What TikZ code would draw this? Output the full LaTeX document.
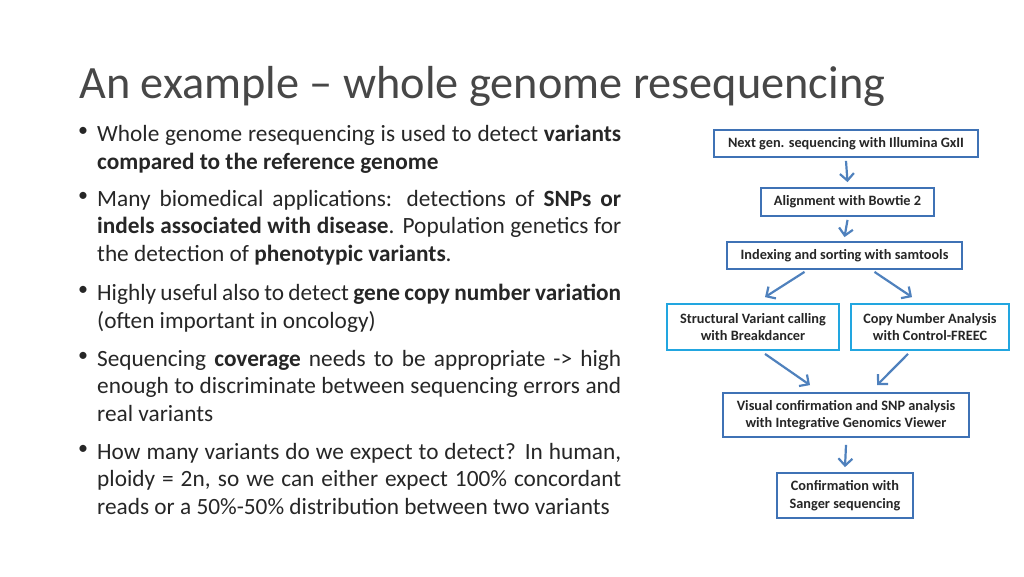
\documentclass[tikz,border=0pt]{standalone}
\usepackage{fontspec}
\setmainfont{Carlito}
\usetikzlibrary{arrows.meta}
\hyphenpenalty=10000
\exhyphenpenalty=10000
\definecolor{dblue}{HTML}{3F72B5}
\definecolor{lblue}{HTML}{22A6E0}
\definecolor{arr}{HTML}{4F81BD}
\definecolor{txt}{HTML}{262626}
\tikzset{
 fbox/.style={draw=dblue,line width=1.8pt,fill=white,font=\fontsize{14.3}{17.5}\selectfont\bfseries,text=txt,align=center,inner sep=0pt},
 lbox/.style={fbox,draw=lblue},
 flow/.style={draw=arr,line width=2.2pt,-{Straight Barb[length=7pt,width=14pt]}},
 bul/.style={anchor=north west,text width=524pt,align=justify,inner sep=0pt,font=\fontsize{23.3}{27.6}\selectfont,text=txt},
 dot/.style={anchor=north west,inner sep=0pt,font=\fontsize{20}{27.6}\selectfont,text=txt}
}
\begin{document}
\begin{tikzpicture}[x=1pt,y=-1pt]
\useasboundingbox (0,0) rectangle (1024,576);
\node[anchor=west,inner sep=0pt,font=\fontsize{46.3}{50}\selectfont,text=black!72] (title) at (79,86) {An example – whole genome resequencing};
\node[bul] (b1) at (97,125) {Whole genome resequencing is used to detect \textbf{variants compared to the reference genome}};
\node[bul] (b2) at (97,190) {Many biomedical applications: detections of \textbf{SNPs or indels associated with disease}. Population genetics for the detection of \textbf{phenotypic variants}.};
\node[bul] (b3) at (97,284) {Highly useful also to detect \textbf{gene copy number variation} (often important in oncology)};
\node[bul] (b4) at (97,350) {Sequencing \textbf{coverage} needs to be appropriate -> high enough to discriminate between sequencing errors and real variants};
\node[bul] (b5) at (97,443) {How many variants do we expect to detect? In human, ploidy = 2n, so we can either expect 100\% concordant reads or a 50\%-50\% distribution between two variants};
\foreach \n/\y in {d1/127,d2/192,d3/286,d4/352,d5/445}{\node[dot] (\n) at (78,\y) {•};}

\node[fbox,minimum width=264pt,minimum height=27pt] (n1) at (846,143.5) {Next gen. sequencing with Illumina GxII};
\node[fbox,minimum width=173pt,minimum height=28pt] (n2) at (847.5,202) {Alignment with Bowtie 2};
\node[fbox,minimum width=235pt,minimum height=27pt] (n3) at (844.5,255.5) {Indexing and sorting with samtools};
\node[lbox,minimum width=172pt,minimum height=46pt] (n4) at (753,327) {Structural Variant calling\\with Breakdancer};
\node[lbox,minimum width=158pt,minimum height=46pt] (n5) at (930,327) {Copy Number Analysis\\with Control-FREEC};
\node[fbox,minimum width=246pt,minimum height=44pt] (n6) at (846,415) {Visual confirmation and SNP analysis\\with Integrative Genomics Viewer};
\node[fbox,minimum width=136pt,minimum height=45pt] (n7) at (845,495.5) {Confirmation with\\Sanger sequencing};

\draw[flow] ([yshift=-3pt]n1.south) -- ([yshift=5pt]n2.north);
\draw[flow] ([yshift=-3pt]n2.south) -- ([yshift=4pt]n3.north);
\draw[flow] ([xshift=-40pt,yshift=-2pt]n3.south) -- ([xshift=12pt,yshift=6pt]n4.north);
\draw[flow] ([xshift=30pt,yshift=-2pt]n3.south) -- ([xshift=-18pt,yshift=6pt]n5.north);
\draw[flow] ([xshift=12pt,yshift=-3pt]n4.south) -- ([xshift=-36pt,yshift=7pt]n6.north);
\draw[flow] ([xshift=-22pt,yshift=-3pt]n5.south) -- ([xshift=31pt,yshift=7pt]n6.north);
\draw[flow] ([yshift=-7pt]n6.south) -- ([yshift=5pt]n7.north);
\end{tikzpicture}
\end{document}
